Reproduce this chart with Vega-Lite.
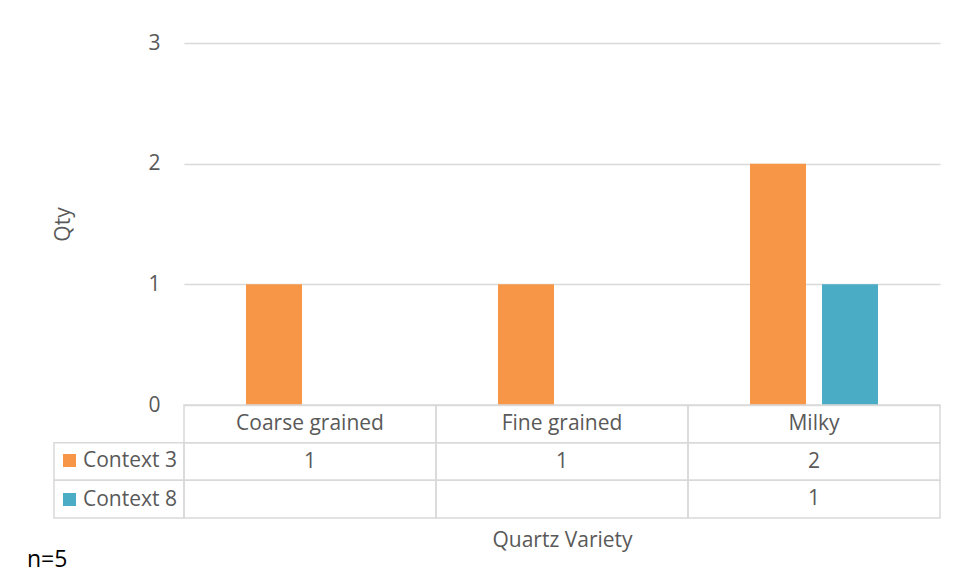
{
  "$schema": "https://vega.github.io/schema/vega-lite/v6.json",
  "autosize": {"type": "pad"},
  "padding": {"left": 27, "top": 32, "right": 10, "bottom": 5},
  "background": "white",
  "config": {
    "view": {"stroke": null},
    "font": "Open Sans",
    "axis": {"labelFont": "Open Sans", "titleFont": "Open Sans"},
    "legend": {"labelFont": "Open Sans"}
  },
  "title": {
    "text": "n=5",
    "orient": "bottom",
    "anchor": "start",
    "frame": "group",
    "dx": -27,
    "offset": -1,
    "fontSize": 23,
    "fontWeight": "normal",
    "color": "#000000",
    "font": "Open Sans"
  },
  "datasets": {
    "counts": [
      {"Variety": "Coarse grained", "Context": "Context 3", "Qty": 1},
      {"Variety": "Coarse grained", "Context": "Context 8", "Qty": null},
      {"Variety": "Fine grained", "Context": "Context 3", "Qty": 1},
      {"Variety": "Fine grained", "Context": "Context 8", "Qty": null},
      {"Variety": "Milky", "Context": "Context 3", "Qty": 2},
      {"Variety": "Milky", "Context": "Context 8", "Qty": 1}
    ]
  },
  "data": {"name": "counts"},
  "columns": 2,
  "spacing": 0,
  "bounds": "flush",
  "concat": [
    {
      "width": 130,
      "height": 362,
      "mark": {"type": "point", "opacity": 0},
      "encoding": {}
    },
    {
      "width": 756,
      "height": 362,
      "mark": {"type": "bar"},
      "encoding": {
        "x": {
          "field": "Variety",
          "type": "nominal",
          "sort": null,
          "scale": {"paddingInner": 0, "paddingOuter": 0},
          "axis": null
        },
        "xOffset": {
          "field": "Context",
          "type": "nominal",
          "scale": {"domain": ["Context 3", "Context 8"], "paddingInner": 0.2222, "paddingOuter": 0.861}
        },
        "y": {
          "field": "Qty",
          "type": "quantitative",
          "scale": {"domain": [0, 3]},
          "axis": {
            "values": [0, 1, 2, 3],
            "title": "Qty",
            "domain": false,
            "ticks": false,
            "grid": true,
            "gridColor": "#d9d9d9",
            "gridWidth": 1.5,
            "labelFontSize": 21,
            "labelColor": "#595959",
            "labelPadding": 24,
            "titleFontSize": 21,
            "titleFontWeight": "normal",
            "titleColor": "#595959",
            "titlePadding": 74
          }
        },
        "color": {
          "field": "Context",
          "type": "nominal",
          "scale": {"domain": ["Context 3", "Context 8"], "range": ["#F79646", "#4BACC6"]},
          "legend": {
            "orient": "none",
            "legendX": 5,
            "legendY": 407,
            "title": null,
            "symbolType": "square",
            "symbolSize": 169,
            "symbolStrokeWidth": 0,
            "labelFontSize": 21,
            "labelColor": "#595959",
            "labelOffset": 3,
            "rowPadding": 17
          }
        }
      }
    },
    {
      "width": 130,
      "height": 113,
      "transform": [{"aggregate": [{"op": "count", "as": "n"}], "groupby": ["Context"]}],
      "mark": {"type": "rect", "fill": null, "stroke": "#d9d9d9", "strokeWidth": 1.5},
      "encoding": {
        "y": {
          "field": "Context",
          "type": "nominal",
          "scale": {"domain": ["header", "Context 3", "Context 8"], "paddingInner": 0, "paddingOuter": 0},
          "axis": null
        }
      }
    },
    {
      "width": 756,
      "height": 113,
      "encoding": {
        "x": {
          "field": "Variety",
          "type": "nominal",
          "sort": null,
          "scale": {"paddingInner": 0, "paddingOuter": 0},
          "axis": {
            "labels": false,
            "ticks": false,
            "domain": false,
            "title": "Quartz Variety",
            "titleFontSize": 21,
            "titleFontWeight": "normal",
            "titleColor": "#595959",
            "titlePadding": 11
          }
        }
      },
      "layer": [
        {
          "mark": {"type": "rect", "fill": null, "stroke": "#d9d9d9", "strokeWidth": 1.5},
          "encoding": {
            "y": {
              "field": "Context",
              "type": "nominal",
              "scale": {"domain": ["header", "Context 3", "Context 8"], "paddingInner": 0, "paddingOuter": 0},
              "axis": null
            }
          }
        },
        {
          "transform": [{"aggregate": [{"op": "count", "as": "n"}], "groupby": ["Variety"]}],
          "layer": [
            {
              "mark": {"type": "rect", "fill": null, "stroke": "#d9d9d9", "strokeWidth": 1.5},
              "encoding": {"y": {"datum": "header", "type": "nominal"}}
            },
            {
              "mark": {"type": "text", "fontSize": 21, "color": "#595959", "font": "Open Sans"},
              "encoding": {
                "y": {"datum": "header", "type": "nominal"},
                "text": {"field": "Variety", "type": "nominal"}
              }
            }
          ]
        },
        {
          "transform": [{"filter": "isValid(datum.Qty)"}],
          "mark": {"type": "text", "fontSize": 21, "color": "#595959", "font": "Open Sans"},
          "encoding": {
            "y": {"field": "Context", "type": "nominal"},
            "text": {"field": "Qty", "type": "quantitative"}
          }
        }
      ]
    }
  ]
}
